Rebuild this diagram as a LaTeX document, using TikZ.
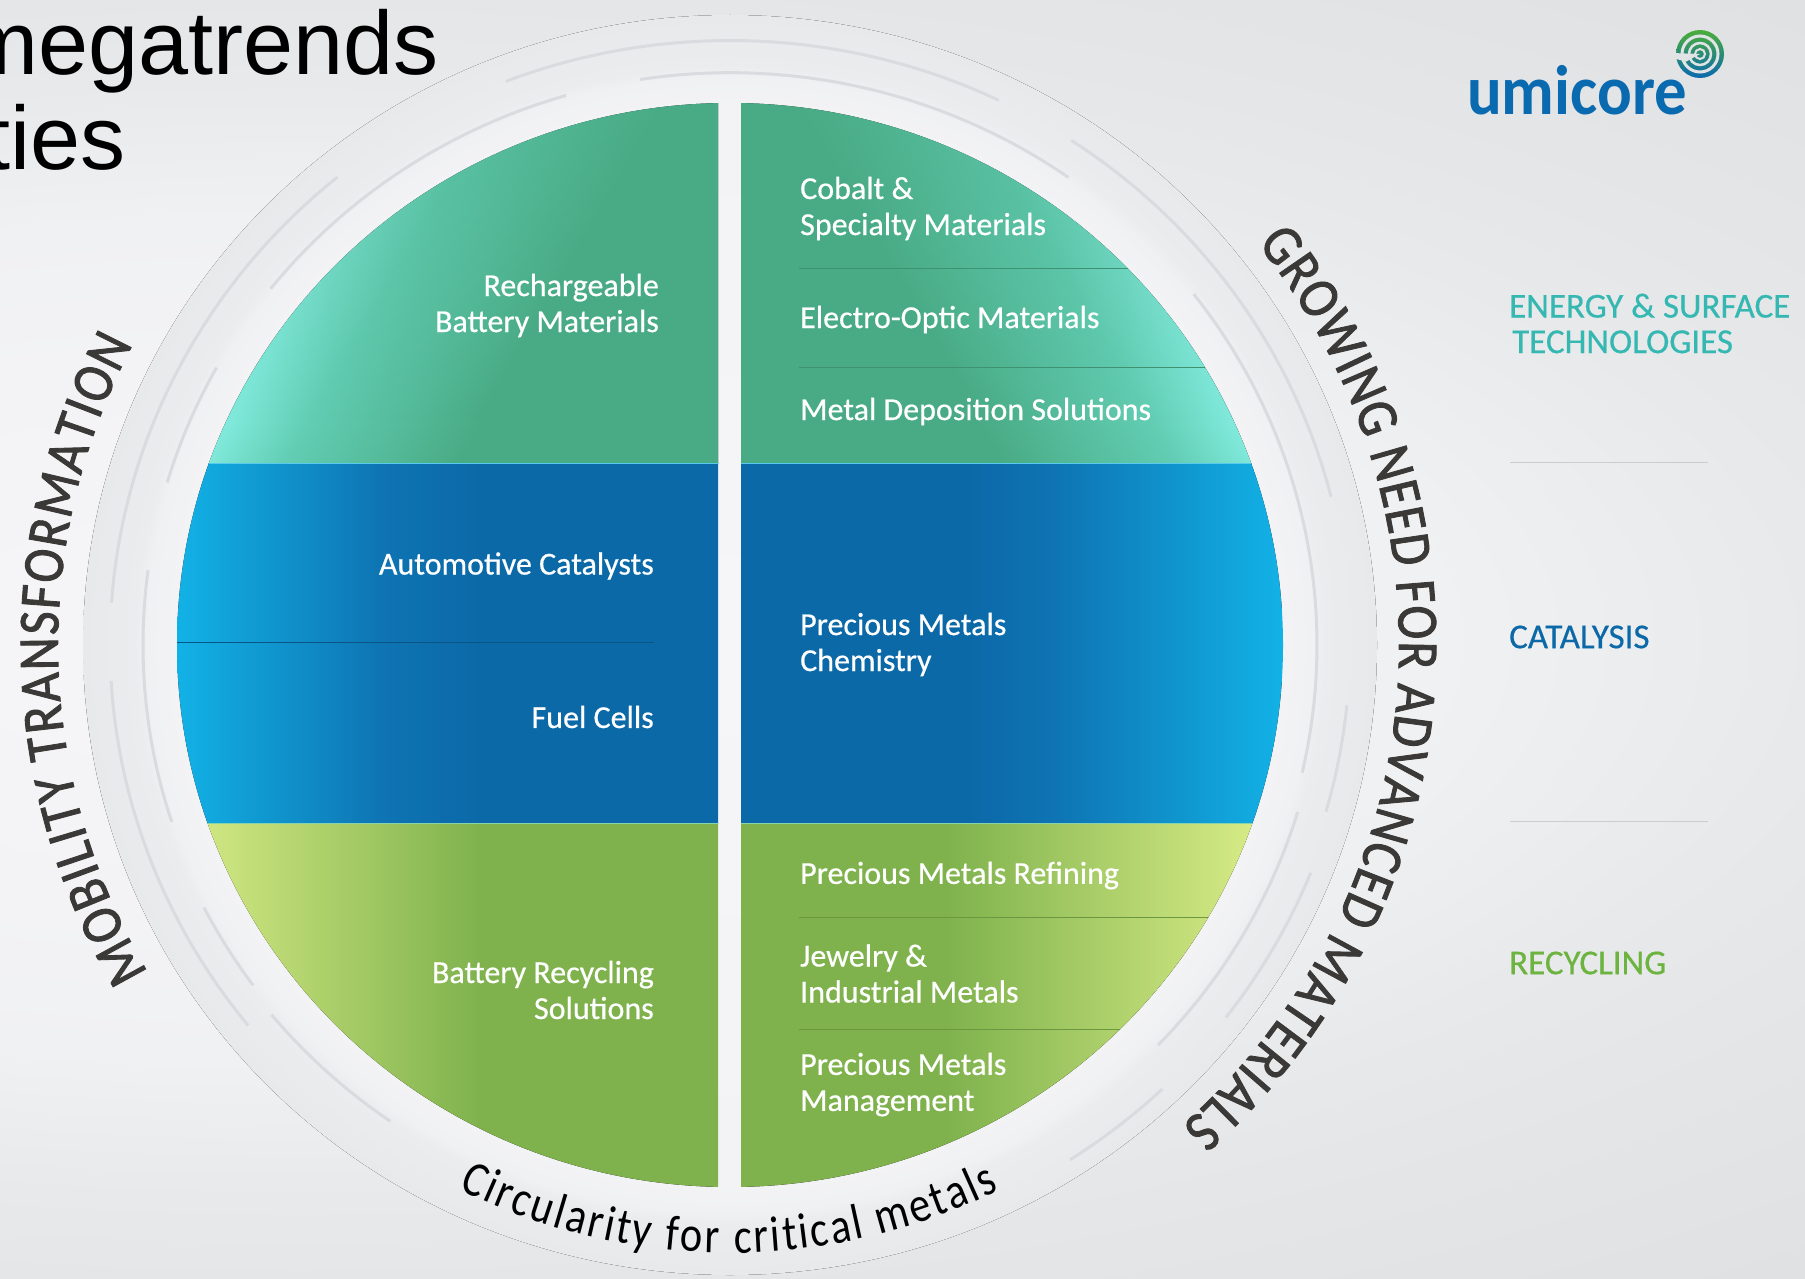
\documentclass[tikz,border=0pt]{standalone}
\usepackage{fontspec}
\setmainfont{Carlito}
\newfontfamily\titlefont{Liberation Sans}
\newfontfamily\logofont[FakeStretch=0.925]{Carlito}
\newfontfamily\labelfont[FakeBold=0.5]{Carlito}
\newfontfamily\capsfont[FakeStretch=0.88,FakeBold=1.5]{Carlito}
\newfontfamily\curvefont[FakeStretch=0.85]{Carlito}
\usetikzlibrary{%
	positioning,
	fadings,
	decorations.text
}
\definecolor{cTealHi}{HTML}{80E9DB}
\definecolor{cTealMid}{HTML}{62CDB3}
\definecolor{cTeal}{HTML}{49AB85}
\definecolor{cBlueHi}{HTML}{12B2E6}
\definecolor{cBlue}{HTML}{0C69A8}
\definecolor{cBlueEase}{HTML}{0E74B3}
\definecolor{cLimeHi}{HTML}{D5EA85}
\definecolor{cLime}{HTML}{7FB24D}
\definecolor{cBgA}{HTML}{F6F6F8}
\definecolor{cBgB}{HTML}{F3F3F5}
\definecolor{cBgC}{HTML}{F0F1F2}
\definecolor{cBgD}{HTML}{E8E9EB}
\definecolor{cBgE}{HTML}{E5E6E8}
\definecolor{cBgF}{HTML}{E0E1E3}
\definecolor{cRingA}{HTML}{F0F1F3}
\definecolor{cRingB}{HTML}{EBECEE}
\definecolor{cRingC}{HTML}{E8E9EB}
\definecolor{cGap}{HTML}{E2E3E5}
\definecolor{cDark}{HTML}{3A3937}
\definecolor{cSwoosh}{HTML}{DADBDE}
\definecolor{cEnergy}{HTML}{36B8B2}
\definecolor{cRecyc}{HTML}{6DB33F}
\definecolor{cLogo}{HTML}{0A6AB0}
\definecolor{cSwirlA}{HTML}{4CAE3A}
\pgfdeclareradialshading{bgShade}{\pgfpoint{0bp}{0bp}}{color(0bp)=(cBgA); color(10bp)=(cBgB); color(15bp)=(cBgC); color(20bp)=(cBgD); color(23bp)=(cBgE); color(30bp)=(cBgF); color(50bp)=(cBgF)}
\pgfdeclareradialshading{ringShade}{\pgfpoint{0bp}{0bp}}{color(0bp)=(cBgA); color(21.4bp)=(cBgB); color(22.5bp)=(cRingA); color(23bp)=(cRingB); color(25bp)=(cRingC); color(50bp)=(cRingC)}
\pgfdeclarehorizontalshading{tealShade}{100bp}{color(0bp)=(cTealHi); color(43.4bp)=(cTealHi); color(47.8bp)=(cTealMid); color(57.2bp)=(cTeal); color(100bp)=(cTeal)}
\pgfdeclarehorizontalshading{blueLeft}{100bp}{color(0bp)=(cBlueHi); color(25bp)=(cBlueHi); color(44bp)=(cBlueEase); color(53bp)=(cBlue); color(100bp)=(cBlue)}
\pgfdeclarehorizontalshading{blueRight}{100bp}{color(0bp)=(cBlue); color(46bp)=(cBlue); color(54bp)=(cBlueEase); color(75bp)=(cBlueHi); color(100bp)=(cBlueHi)}
\pgfdeclarehorizontalshading{limeLeft}{100bp}{color(0bp)=(cLimeHi); color(26bp)=(cLimeHi); color(53bp)=(cLime); color(100bp)=(cLime)}
\pgfdeclarehorizontalshading{limeRight}{100bp}{color(0bp)=(cLime); color(44bp)=(cLime); color(72bp)=(cLimeHi); color(100bp)=(cLimeHi)}

\begin{document}
\begin{tikzpicture}[
		x=1pt,y=-1pt,
		lbl/.style={text=white,inner sep=0pt,font=\labelfont\fontsize{32}{36}\selectfont},
		lblR/.style={lbl,align=left,anchor=west},
		lblL/.style={lbl,align=right,anchor=east},
		side/.style={inner sep=0pt,anchor=west,align=left,font=\labelfont\fontsize{35}{35.5}\selectfont},
		title/.style={inner sep=0pt,anchor=base east,font=\titlefont\fontsize{90}{90}\selectfont},
		swoosh/.style={draw=cSwoosh,line width=3pt},
		ruleA/.style={draw=#1,line width=1pt},
		sep/.style={draw=black!20,line width=1pt},
		topfade/.style={fill=cTeal,path fading=south,fill opacity=.5}
	]
	\useasboundingbox (0,0) rectangle (1805,1279);
	\clip (0,0) rectangle (1805,1279);

	%background
	\fill[shading=bgShade] (-1600,-60) rectangle (2200,1340);
	\coordinate (ctr) at (730,645);
	\fill[shading=ringShade] (ctr) ellipse [x radius=647pt, y radius=630pt];

	%ring
	\foreach \r/\from/\to in {620/111.2/64.3, 587/98.8/54.8, 587/106.2/141.5, 620/129.3/176, 587/151/163.5, 587/172.5/198, 620/183.4/219, 591/207.1/216.2, 595/219.6/235.2, 620/56.6/14.2, 587/37.8/-12.9, 620/-5.7/-16, 593/-16.8/-43.8, 626/-21.9/-37.6, 628/-46.5/-57.2}
	{
		\draw[swoosh] (ctr) ++(\from:\r pt and 0.975*\r pt) arc [start angle=\from, end angle=\to, x radius=\r pt, y radius=0.975*\r pt];
	}

	%disc
	\begin{scope}
		\clip (ctr) ellipse [x radius=553pt, y radius=542pt];
		\begin{scope}
			\clip (170,100) rectangle (718,463);
			\fill[shading=tealShade,shading angle=-30] (20,-100) rectangle (820,700);
			\path[topfade] (170,100) rectangle (718,420);
		\end{scope}
		\begin{scope}
			\clip (741,100) rectangle (1290,463);
			\fill[shading=tealShade,shading angle=210] (640,-100) rectangle (1440,700);
			\path[topfade] (741,100) rectangle (1290,420);
		\end{scope}
		\fill[shading=blueLeft] (176,463) rectangle (718,823);
		\fill[shading=blueRight] (741,463) rectangle (1283,823);
		\fill[shading=limeLeft] (176,823) rectangle (718,1190);
		\fill[shading=limeRight] (741,823) rectangle (1283,1190);
		\draw[ruleA=cTeal!85!black] (799,268) -- (1130,268);
		\draw[ruleA=cTeal!85!black] (799,367) -- (1205,367);
		\draw[ruleA=cBlue!80!black] (176,642) -- (654,642);
		\draw[ruleA=cLime!85!black] (799,917) -- (1212,917);
		\draw[ruleA=cLime!85!black] (799,1029) -- (1125,1029);
		\draw[ruleA=cBlueHi!70!white] (176,463) -- (718,463);
		\draw[ruleA=cBlueHi!70!white] (741,463) -- (1283,463);
		\draw[ruleA=cLimeHi!60!cBlueHi] (176,823) -- (718,823);
		\draw[ruleA=cLimeHi!60!cBlueHi] (741,823) -- (1283,823);
	\end{scope}

	%right half
	\node(cobalt) [lblR] at (800,208.5) {Cobalt \&\\Specialty Materials};
	\node(electro) [lblR, below=111pt of cobalt.west, anchor=west] {Electro-Optic Materials};
	\node(metal) [lblR, below=92pt of electro.west, anchor=west] {Metal Deposition Solutions};
	\node(chem) [lblR, below=233pt of metal.west, anchor=west] {Precious Metals\\Chemistry};
	\node(refining) [lblR, below=231pt of chem.west, anchor=west] {Precious Metals Refining};
	\node(jewelry) [lblR, below=98pt of refining.west, anchor=west] {Jewelry \&\\Industrial Metals};
	\node(mgmt) [lblR, below=111pt of jewelry.west, anchor=west] {Precious Metals\\Management};

	%left half
	\node(recharge) [lblL] at (659,305.5) {Rechargeable\\Battery Materials};
	\node(auto) [lblL] at (654,566) {Automotive Catalysts};
	\node(fuel) [lblL, below=151pt of auto.east, anchor=east] {Fuel Cells};
	\node(batrec) [lblL, below=273pt of fuel.east, anchor=east] {Battery Recycling\\Solutions};

	%curved texts
	\path[decorate,decoration={text along path,text align={fit to path},text color=cDark,
		text={|\capsfont\fontsize{58}{58}\selectfont|MOBILITY TRANSFORMATION}}]
		(ctr) ++(210:672pt and 655pt) arc [start angle=210, end angle=152.7, x radius=672pt, y radius=655pt];
	\path[decorate,decoration={text along path,text align={fit to path},text color=cDark,
		text={|\capsfont\fontsize{58}{58}\selectfont|GROWING NEED FOR ADVANCED MATERIALS}}]
		(ctr) ++(38:669pt and 652pt) arc [start angle=38, end angle=-47.5, x radius=669pt, y radius=652pt];
	\path[decorate,decoration={text along path,text align={fit to path},text color=black,
		text={|\curvefont\fontsize{50}{50}\selectfont|Circularity for critical metals}}]
		(ctr) ++(243.5:608pt and 608pt) arc [start angle=243.5, end angle=296.3, radius=608pt];

	%right column
	\node(energy) [side, text=cEnergy] at (1509,323.5) {ENERGY \& SURFACE\\\hspace{3pt}TECHNOLOGIES};
	\node(catalysis) [side, text=cBlue, below=313.5pt of energy.west, anchor=west] {CATALYSIS};
	\node(recycling) [side, text=cRecyc, below=326pt of catalysis.west, anchor=west] {RECYCLING};
	\draw[sep] (1510,462) -- (1708,462);
	\draw[sep] (1510,821) -- (1708,821);

	%logo
	\node(logo) [inner sep=0pt,anchor=base east,text=cLogo,font=\logofont\bfseries\fontsize{70}{70}\selectfont] at (1687,115) {umicore};
	\coordinate (swirl) at (1700,54);
	\shade[top color=cSwirlA,bottom color=cLogo] (swirl) circle [radius=24pt];
	\draw[draw=cGap,line width=3pt] (swirl) circle [radius=18pt];
	\draw[draw=cGap,line width=2.5pt] (swirl) circle [radius=11pt];
	\draw[draw=cGap,line width=2pt] (swirl) circle [radius=5pt];
	\fill[cGap] (swirl) -- ++(178:26pt) -- ++(205:8pt) -- ++(-15:20pt) -- cycle;

	%title
	\node(megatrends) [title] at (439,75) {megatrends};
	\node(ties) [title] at (126,170) {ties};
\end{tikzpicture}
\end{document}
